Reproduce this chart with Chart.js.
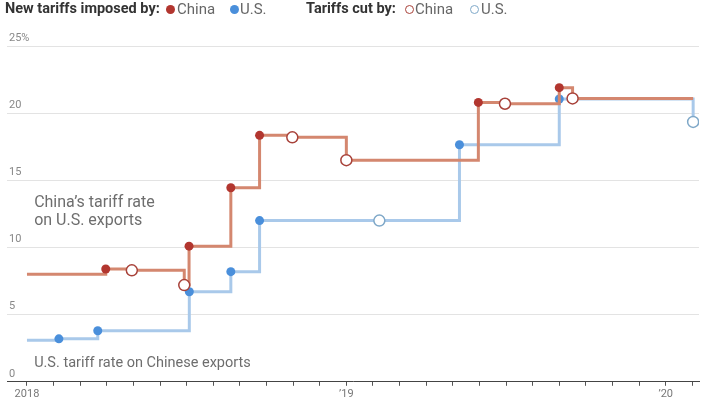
<!DOCTYPE html>
<html>
<head>
<meta charset="utf-8">
<script src="https://cdn.jsdelivr.net/npm/chart.js@4.4.1/dist/chart.umd.min.js"></script>
<style>
    html, body { margin: 0; padding: 0; background: #fff; }
    #wrap { position: relative; width: 720px; height: 405px; font-family: Roboto, "Noto Sans", sans-serif; }
    #legend { position: absolute; left: 0; top: 0; width: 720px; height: 20px; font-size: 15px; color: #666; }
    #legend span { position: absolute; top: 0; line-height: 18px; white-space: nowrap; }
    #legend .head { color: #333; font-weight: bold; font-size: 14.5px; }
    #legend .dot { width: 9px; height: 9px; border-radius: 50%; top: 5px; box-sizing: border-box; }
</style>
</head>
<body>
<div id="wrap">
    <canvas id="tariffChart"></canvas>
    <div id="legend">
        <span class="head" style="left:5px">New tariffs imposed by:</span>
        <span class="dot" style="left:166px; background:#b2362f"></span>
        <span style="left:177px">China</span>
        <span class="dot" style="left:230px; background:#4a8fdb"></span>
        <span style="left:240px">U.S.</span>
        <span class="head" style="left:306px">Tariffs cut by:</span>
        <span class="dot" style="left:405px; border:1.5px solid #a8423a"></span>
        <span style="left:415px">China</span>
        <span class="dot" style="left:470px; border:1.5px solid #7fa8c8"></span>
        <span style="left:481px">U.S.</span>
    </div>
</div>
<script>
// x = months since January 2018
const chinaMonths = [0, 2.96, 3.94, 5.91, 6.09, 7.66, 8.74, 9.97, 12.0, 16.96, 17.96, 20.0, 20.5, 25.03];
const chinaRates = [8.0, 8.4, 8.3, 7.2, 10.1, 14.45, 18.35, 18.2, 16.5, 20.8, 20.7, 21.9, 21.1, 21.1];
const chinaEvents = ['start', 'new', 'cut', 'cut', 'new', 'new', 'new', 'cut', 'cut', 'new', 'cut', 'new', 'cut', 'end'];

const usMonths = [0, 1.2, 2.66, 6.1, 7.66, 8.74, 13.24, 16.25, 20.0, 25.03];
const usRates = [3.1, 3.2, 3.8, 6.7, 8.2, 12.0, 12.0, 17.65, 21.05, 19.35];
const usEvents = ['start', 'new', 'new', 'new', 'new', 'new', 'cut', 'new', 'new', 'cut'];

const yearLabels = { 0: '2018', 12: '\u201919', 24: '\u201920' };
const yTickLabels = { 0: '0', 5: '5', 10: '10', 15: '15', 20: '20', 25: '25%' };

const chinaLabel = ['China\u2019s tariff rate', 'on U.S. exports'];
const usLabel = 'U.S. tariff rate on Chinese exports';

function toPoints(xs, ys) {
    return xs.map((x, i) => ({ x: x, y: ys[i] }));
}

// estilo de punto según el tipo de evento
function pointStyler(events, fill, ring) {
    return {
        radius: ctx => events[ctx.dataIndex] === 'new' ? 4.5 : (events[ctx.dataIndex] === 'cut' ? 5.5 : 0),
        bg: ctx => events[ctx.dataIndex] === 'cut' ? '#ffffff' : fill,
        border: ctx => events[ctx.dataIndex] === 'cut' ? ring : fill,
        width: ctx => events[ctx.dataIndex] === 'cut' ? 1.5 : 0
    };
}

const chinaPts = pointStyler(chinaEvents, '#b2362f', '#a8423a');
const usPts = pointStyler(usEvents, '#4a8fdb', '#7fa8c8');

const labelPlugin = {
    id: 'seriesLabels',
    afterDatasetsDraw(chart) {
        const { ctx, scales } = chart;
        ctx.save();
        ctx.fillStyle = '#6e6e6e';
        ctx.textAlign = 'left';
        ctx.textBaseline = 'middle';
        const x0 = scales.x.getPixelForValue(0.27);
        ctx.font = '16px Roboto, "Noto Sans", sans-serif';
        ctx.fillText(chinaLabel[0], x0, scales.y.getPixelForValue(13.3));
        ctx.fillText(chinaLabel[1], x0, scales.y.getPixelForValue(11.95));
        ctx.font = '14.5px Roboto, "Noto Sans", sans-serif';
        ctx.fillText(usLabel, x0, scales.y.getPixelForValue(1.34));
        ctx.restore();
    }
};

const chart = new Chart(document.getElementById('tariffChart'), {
    type: 'line',
    data: {
        datasets: [
            {
                label: 'China',
                data: toPoints(chinaMonths, chinaRates),
                stepped: 'before',
                borderColor: '#d4876f',
                borderWidth: 3,
                pointRadius: chinaPts.radius,
                pointBackgroundColor: chinaPts.bg,
                pointBorderColor: chinaPts.border,
                pointBorderWidth: chinaPts.width
            },
            {
                label: 'U.S.',
                data: toPoints(usMonths, usRates),
                stepped: 'before',
                borderColor: '#a9c9ea',
                borderWidth: 3,
                pointRadius: usPts.radius,
                pointBackgroundColor: usPts.bg,
                pointBorderColor: usPts.border,
                pointBorderWidth: usPts.width
            }
        ]
    },
    options: {
        responsive: true,
        maintainAspectRatio: false,
        animation: false,
        layout: { padding: { left: 1, right: 21, top: 46, bottom: 2 } },
        plugins: { legend: { display: false }, tooltip: { enabled: false } },
        scales: {
            x: {
                type: 'linear',
                min: -0.75,
                max: 25.25,
                afterBuildTicks: scale => {
                    const ticks = [];
                    for (let m = 0; m <= 25; m++) ticks.push({ value: m });
                    scale.ticks = ticks;
                },
                ticks: {
                    autoSkip: false,
                    maxRotation: 0,
                    padding: 2,
                    color: '#777',
                    font: { family: 'Roboto', size: 11 },
                    callback: v => yearLabels[v] || ''
                },
                grid: { drawOnChartArea: false, drawTicks: true, tickLength: 4, color: '#555' },
                border: { display: true, color: '#444', width: 1 }
            },
            y: {
                min: 0,
                max: 25,
                afterBuildTicks: scale => {
                    scale.ticks = Object.keys(yTickLabels).map(v => ({ value: +v }));
                },
                ticks: {
                    mirror: true,
                    padding: 2,
                    labelOffset: -8,
                    color: '#888',
                    font: { family: 'Roboto', size: 11 },
                    callback: v => yTickLabels[v]
                },
                grid: { color: '#e3e3e3', drawTicks: false },
                border: { display: false }
            }
        }
    },
    plugins: [labelPlugin]
});
</script>
</body>
</html>
